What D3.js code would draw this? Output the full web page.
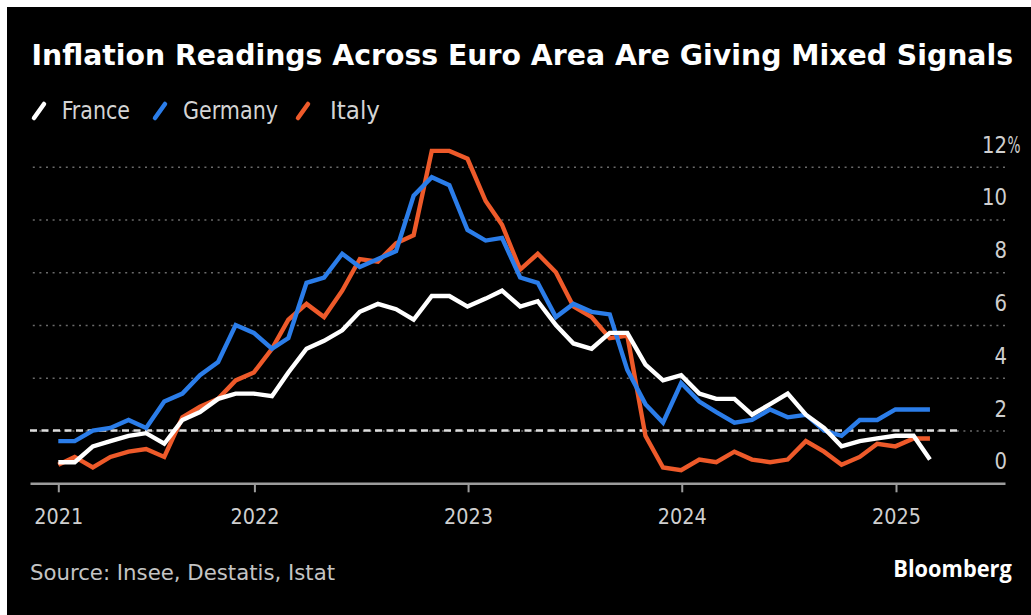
<!DOCTYPE html>
<html>
<head>
<meta charset="utf-8">
<script src="https://cdn.jsdelivr.net/npm/d3@7/dist/d3.min.js"></script>
<style>
  html, body { margin: 0; padding: 0; background: #ffffff; }
  svg { display: block; }
  .cond { font-family: 'DejaVu Sans Condensed', 'DejaVu Sans', sans-serif; }
</style>
</head>
<body>
<svg id="chart" width="1031" height="615"></svg>
<script>
// Harmonised inflation, % year on year, monthly from January 2021
const seriesNames = ["France", "Germany", "Italy"];
const seriesColors = ["#ffffff", "#2b7de9", "#ee5a2a"];

const france = [
  0.8, 0.8, 1.4, 1.6, 1.8, 1.9, 1.5, 2.4, 2.7, 3.2, 3.4, 3.4,
  3.3, 4.2, 5.1, 5.4, 5.8, 6.5, 6.8, 6.6, 6.2, 7.1, 7.1, 6.7,
  7.0, 7.3, 6.7, 6.9, 6.0, 5.3, 5.1, 5.7, 5.7, 4.5, 3.9, 4.1,
  3.4, 3.2, 3.2, 2.6, 3.0, 3.4, 2.6, 2.1, 1.4, 1.6, 1.7, 1.8,
  1.8, 0.9
];
const germany = [
  1.6, 1.6, 2.0, 2.1, 2.4, 2.1, 3.1, 3.4, 4.1, 4.6, 6.0, 5.7,
  5.1, 5.5, 7.6, 7.8, 8.7, 8.2, 8.5, 8.8, 10.9, 11.6, 11.3, 9.6,
  9.2, 9.3, 7.8, 7.6, 6.3, 6.8, 6.5, 6.4, 4.3, 3.0, 2.3, 3.8,
  3.1, 2.7, 2.3, 2.4, 2.8, 2.5, 2.6, 2.0, 1.8, 2.4, 2.4, 2.8,
  2.8, 2.8
];
const italy = [
  0.7, 1.0, 0.6, 1.0, 1.2, 1.3, 1.0, 2.5, 2.9, 3.2, 3.9, 4.2,
  5.1, 6.2, 6.8, 6.3, 7.3, 8.5, 8.4, 9.1, 9.4, 12.6, 12.6, 12.3,
  10.7, 9.8, 8.1, 8.7, 8.0, 6.7, 6.3, 5.5, 5.6, 1.8, 0.6, 0.5,
  0.9, 0.8, 1.2, 0.9, 0.8, 0.9, 1.6, 1.2, 0.7, 1.0, 1.5, 1.4,
  1.7, 1.7
];
const targetRate = 2;

// Axis labels; the first year label sits at the start of the series
const xTickDates = ["2021-01-31", "2022-01-01", "2023-01-01", "2024-01-01", "2025-01-01"];
const xTickLabels = ["2021", "2022", "2023", "2024", "2025"];
const yTickValues = [0, 2, 4, 6, 8, 10, 12];

const titleText = "Inflation Readings Across Euro Area Are Giving Mixed Signals";
const sourceText = "Source: Insee, Destatis, Istat";
const brandText = "Bloomberg";

// ---- layout ----
const W = 1031, H = 615;
const plotLeft = 30, plotRight = 1005, targetEnd = 958;

const svg = d3.select("#chart");

svg.append("rect").attr("x", 7).attr("y", 7)
  .attr("width", W - 7).attr("height", H - 7).attr("fill", "#000000");

// Each reading is plotted at the end of its month
const monthStarts = d3.utcMonth.range(new Date(Date.UTC(2021, 0, 1)), new Date(Date.UTC(2025, 2, 1)));
const monthEnds = monthStarts.map(m => d3.utcDay.offset(d3.utcMonth.offset(m, 1), -1));

const x0 = d3.scaleUtc()
  .domain([new Date(Date.UTC(2021, 0, 31)), new Date(Date.UTC(2025, 0, 1))])
  .range([58.3, 896]);
const x = x0.copy().domain([x0.invert(plotLeft), x0.invert(plotRight)]).range([plotLeft, plotRight]);

const y = d3.scaleLinear().domain([0, 12]).range([483.3, 166.7]);

// Narrow type: keep the glyph height, squeeze the run to the given width
function squeeze(sel, width) {
  sel.attr("textLength", width).attr("lengthAdjust", "spacingAndGlyphs");
  return sel;
}

// ---- title ----
squeeze(svg.append("text")
  .attr("x", 31.5).attr("y", 65)
  .attr("font-family", "'DejaVu Sans', Verdana, sans-serif")
  .attr("font-weight", "bold")
  .attr("font-size", 28.5)
  .attr("fill", "#ffffff")
  .text(titleText), 981.5);

// ---- legend ----
const legendItems = [
  { name: seriesNames[0], color: seriesColors[0], sx: 32, tx: 61.7, tw: 68.3 },
  { name: seriesNames[1], color: seriesColors[1], sx: 153, tx: 183, tw: 95 },
  { name: seriesNames[2], color: seriesColors[2], sx: 296, tx: 330, tw: 50 }
];
const legend = svg.append("g");
legendItems.forEach(d => {
  legend.append("line")
    .attr("x1", d.sx + 2).attr("y1", 118)
    .attr("x2", d.sx + 12).attr("y2", 104)
    .attr("stroke", d.color).attr("stroke-width", 4.5)
    .attr("stroke-linecap", "round");
  squeeze(legend.append("text")
    .attr("class", "cond")
    .attr("x", d.tx).attr("y", 119)
    .attr("font-size", 24.5)
    .attr("fill", "#d4d4d4")
    .text(d.name), d.tw);
});

// ---- gridlines ----
const grid = svg.append("g").attr("transform", `translate(${plotRight},0)`)
  .call(d3.axisLeft(y).tickValues(yTickValues.filter(v => v > 0))
    .tickSize(plotRight - plotLeft).tickFormat(""));
grid.select(".domain").remove();
grid.selectAll(".tick line")
  .attr("stroke", "#6a6a6a").attr("stroke-width", 1.6)
  .attr("stroke-dasharray", "2,4.6");

// ---- y labels, sitting above their gridlines ----
const yLabels = svg.append("g");
yLabels.selectAll("text").data(yTickValues).join("text")
  .attr("class", "cond")
  .attr("x", d => 1007 - (d >= 10 ? 25 : 12.5)).attr("y", d => y(d) - 14)
  .attr("font-size", 22.5)
  .attr("fill", "#cfcfcf")
  .attr("textLength", d => (d >= 10 ? 25 : 12.5))
  .attr("lengthAdjust", "spacingAndGlyphs")
  .text(d => d3.format("d")(d));
squeeze(yLabels.append("text")
  .attr("class", "cond")
  .attr("x", 1007.5).attr("y", y(12) - 14)
  .attr("font-size", 22.5)
  .attr("fill", "#cfcfcf")
  .text("%"), 13);

// ---- 2% reference ----
svg.append("line")
  .attr("x1", plotLeft).attr("x2", targetEnd)
  .attr("y1", y(targetRate)).attr("y2", y(targetRate))
  .attr("stroke", "#dedede").attr("stroke-width", 2.6)
  .attr("stroke-dasharray", "7,4.5");

// ---- x axis ----
const xAxis = svg.append("g").attr("transform", `translate(0,${y(0)})`)
  .call(d3.axisBottom(x)
    .tickValues(xTickDates.map(s => new Date(s + "T00:00:00Z")))
    .tickFormat((d, i) => xTickLabels[i])
    .tickSize(9).tickSizeOuter(0).tickPadding(20));
xAxis.attr("font-family", null).attr("font-size", null);
xAxis.select(".domain").attr("stroke", "#9c9c9c").attr("stroke-width", 2.6);
xAxis.selectAll(".tick line").attr("stroke", "#9c9c9c").attr("stroke-width", 2);
xAxis.selectAll(".tick text")
  .attr("class", "cond")
  .attr("fill", "#cfcfcf")
  .attr("font-size", 21.5)
  .attr("dy", null)
  .attr("y", 524.3 - 483.3)
  .attr("textLength", 49)
  .attr("lengthAdjust", "spacingAndGlyphs");

// ---- series (France on top) ----
const line = d3.line()
  .x((d, i) => x(monthEnds[i]))
  .y(d => y(d));
const seriesValues = [france, germany, italy];
const drawOrder = [2, 1, 0];
const linesG = svg.append("g");
drawOrder.forEach(k => {
  linesG.append("path")
    .datum(seriesValues[k])
    .attr("d", line)
    .attr("fill", "none")
    .attr("stroke", seriesColors[k])
    .attr("stroke-width", 4.4)
    .attr("stroke-linejoin", "miter")
    .attr("stroke-miterlimit", 3);
});

// ---- footer ----
squeeze(svg.append("text")
  .attr("class", "cond")
  .attr("x", 30).attr("y", 580)
  .attr("font-size", 21)
  .attr("fill", "#c4c4c4")
  .text(sourceText), 305);

squeeze(svg.append("text")
  .attr("x", 893.3).attr("y", 576.7)
  .attr("font-family", "'Open Sans', 'Liberation Sans', sans-serif")
  .attr("font-weight", "bold")
  .attr("font-size", 22.5)
  .attr("fill", "#ffffff")
  .text(brandText), 118.4);
</script>
</body>
</html>
